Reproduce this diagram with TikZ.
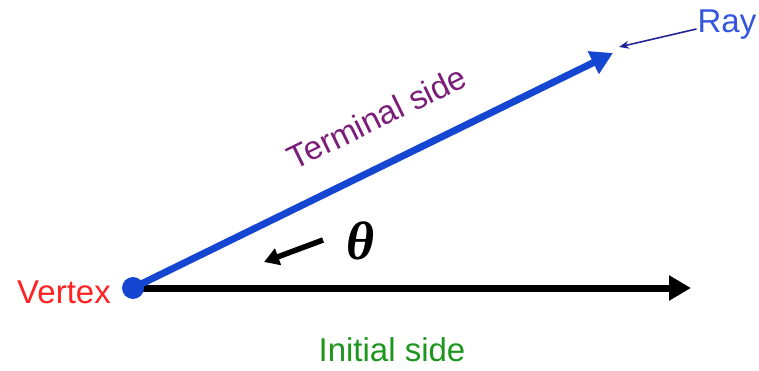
\documentclass[tikz,border=0pt]{standalone}
\usepackage{fontspec}
\setmainfont{Liberation Sans}
\newfontfamily\thetafont{Liberation Serif}
\usetikzlibrary{arrows.meta}
\definecolor{rayblue}{HTML}{1446D2}
\definecolor{raytext}{HTML}{3355E0}
\definecolor{pointer}{HTML}{23239A}
\definecolor{termpurple}{HTML}{7A1E7A}
\definecolor{initgreen}{HTML}{1E961E}
\definecolor{vertred}{HTML}{FF2222}
\tikzset{
  lbl/.style={inner sep=0pt, font=\fontsize{33}{38}\selectfont},
  mainside/.style={line width=7pt, -{Triangle[length=22pt,width=24pt]}},
  pointerarrow/.style={line width=1.6pt, pointer, -{Stealth[length=10pt,width=8pt]}},
}
\begin{document}
\begin{tikzpicture}[x=1pt,y=-1pt]
\useasboundingbox (0,0) rectangle (759,371);
\coordinate (V) at (133,288);
\coordinate (I) at (691,288);
\coordinate (T) at (613,53);
\draw[mainside, black, shorten <=-1pt] (V) -- (I);
\draw[mainside, rayblue] (V) -- (T);
\fill[rayblue] (V) circle (11);
\node[lbl, text=vertred, anchor=east] (vl) at (111,292) {Vertex};
\node[lbl, text=initgreen] (il) at (392,350) {Initial side};
\node[lbl, text=termpurple, rotate=26] (tl) at (377,117) {Terminal side};
\node[lbl, text=raytext] (rl) at (727,25) {Ray};
\coordinate (rp) at (619,47);
\draw[pointerarrow] (rl.west) ++(-1,4) coordinate (rs) -- (rp);
\node[inner sep=0pt, font=\thetafont\fontsize{54}{60}\selectfont\bfseries\itshape] (th) at (361,241) {θ};
\coordinate (a1) at (323,240);
\coordinate (a2) at (264,262);
\draw[line width=5.5pt, -{Triangle[length=15pt,width=17pt]}] (a1) -- (a2);
\end{tikzpicture}
\end{document}
